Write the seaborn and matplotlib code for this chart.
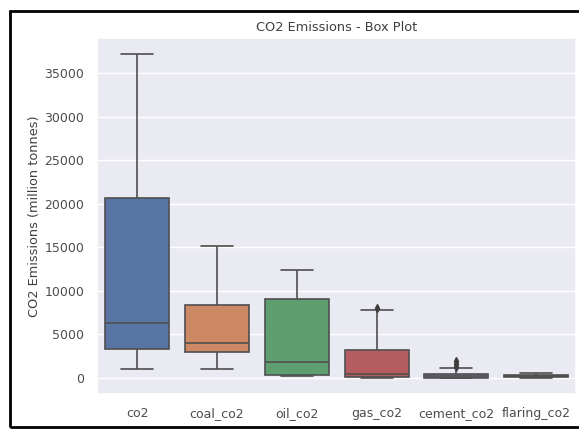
import numpy as np
import pandas as pd
import matplotlib
matplotlib.use("Agg")
import matplotlib.pyplot as plt
import matplotlib.patches as mpatches
import seaborn as sns

# Values (million tonnes), chosen so the quartiles,
# whiskers and outliers land where the reference shows them
categories = ['co2', 'coal_co2', 'oil_co2', 'gas_co2', 'cement_co2', 'flaring_co2']
co2 = [950, 2000, 3310, 5000, 6240, 12000, 20660, 30000, 37200]
coal_co2 = [950, 2000, 3000, 3500, 4000, 6000, 8330, 12000, 15100]
oil_co2 = [150, 250, 340, 1000, 1790, 5000, 9020, 11000, 12400]
gas_co2 = [0, 10, 30, 200, 420, 1500, 3180, 7760, 7990]
cement_co2 = [0, 0, 0, 5, 10, 30, 60, 100, 150, 200, 300, 400, 450, 1100, 1200, 1550, 1900]
flaring_co2 = [0, 20, 60, 100, 150, 200, 300, 380, 480]

series = [co2, coal_co2, oil_co2, gas_co2, cement_co2, flaring_co2]
df = pd.DataFrame({
    'variable': np.repeat(categories, [len(s) for s in series]),
    'value': np.concatenate(series),
})

sns.set_theme(style='darkgrid')
plt.rcParams['text.color'] = '.25'
plt.rcParams['axes.labelcolor'] = '.25'
plt.rcParams['xtick.color'] = '.3'
plt.rcParams['ytick.color'] = '.3'

fig = plt.figure(figsize=(5.79, 4.29), dpi=100)
ax = fig.add_axes([0.168, 0.082, 0.827, 0.829])
sns.boxplot(data=df, x='variable', y='value', hue='variable', palette='deep',
            legend=False, ax=ax, linewidth=1.2, fliersize=4, linecolor='#4f4f4f',
            flierprops=dict(marker='d', markerfacecolor='#3d3d3d', markeredgecolor='#3d3d3d'))
ax.set_title('CO2 Emissions - Box Plot', fontsize=9.3, pad=5)
ax.set_xlabel('')
ax.set_ylabel('CO2 Emissions (million tonnes)', fontsize=9.3, labelpad=2)
ax.tick_params(axis='both', labelsize=9)

# black frame around the screenshot (right edge is cut off)
fig.patches.append(mpatches.Rectangle((0.018, 0.004), 1.0, 0.97, transform=fig.transFigure,
                                      fill=False, edgecolor='black', linewidth=2))

plt.savefig('out.png', dpi=100)
